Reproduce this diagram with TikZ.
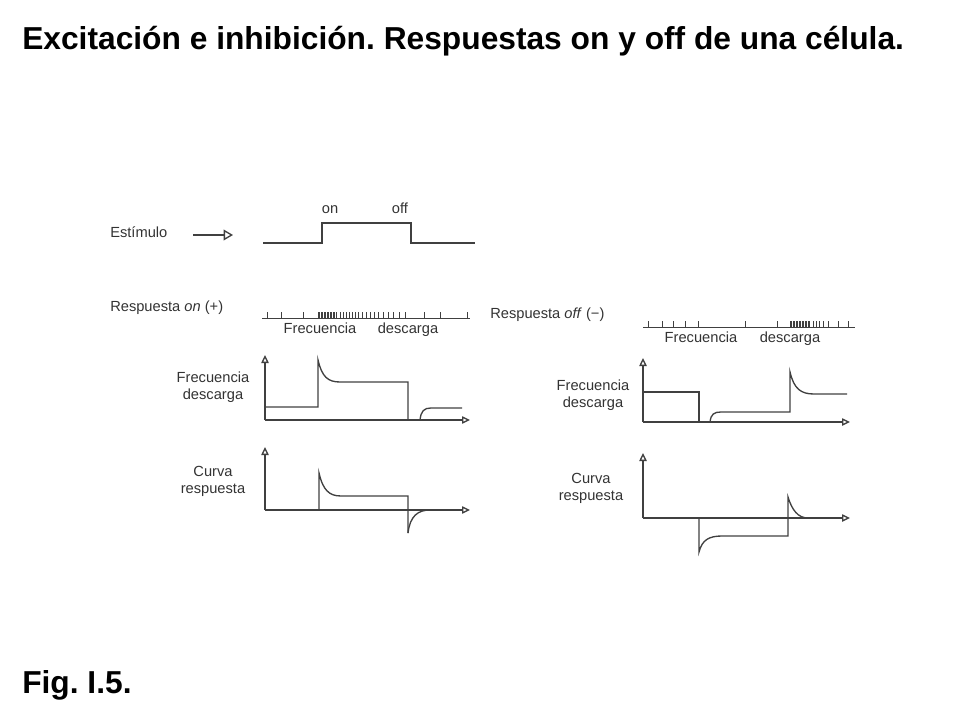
\documentclass[tikz,border=0pt]{standalone}
\usepackage{fontspec}
\setmainfont{Liberation Sans}
\usetikzlibrary{arrows.meta}
\frenchspacing
\newcommand{\leftaxis}{265}
\newcommand{\rightaxis}{643}
\newcommand{\axisend}{470}
\newcommand{\raxisend}{850}
\newcommand{\onlevel}{318}
\newcommand{\offlevel}{327}

\begin{document}
\begin{tikzpicture}[x=0.75pt,y=-0.75pt]
\tikzstyle{trace}=[black!75,line width=1pt]
\tikzstyle{axis}=[black!75,line width=1pt,-{Triangle[open,length=6pt,width=5.5pt]}]
\tikzstyle{bigarrow}=[black!75,line width=1pt,-{Triangle[open,length=7pt,width=8pt]}]
\tikzstyle{spike}=[black!75,line width=0.6pt]
\tikzstyle{lbl}=[font=\fontsize{11}{12.8}\selectfont,text=black!80,align=center,inner sep=0pt]
\tikzstyle{heading}=[anchor=west,inner sep=0pt,font=\bfseries\fontsize{23.8}{26}\selectfont]

\useasboundingbox (0,0) rectangle (960,720);

%% titles
\node (title) [heading] at (22,41) {Excitación e inhibición. Respuestas on y off de una célula.};
\node (fig) [heading] at (22,685) {Fig. I.5.};

%% stimulus
\node (estimulo) [lbl,anchor=west] at (110,232) {Estímulo};
\coordinate (arrowstart) at (193,235);
\coordinate (arrowend) at (233,235);
\draw[bigarrow] (arrowstart) -- (arrowend);
\draw[trace] (263,243) -- (322,243) -- (322,223) -- (411,223) -- (411,243) -- (475,243);
\node (on) [lbl,anchor=base] at (330,214) {on};
\node (off) [lbl,anchor=base] at (400,214) {off};

%% on response spike train
\node (respon) [lbl,anchor=west] at (110,308) {Respuesta \textit{on} (+)};
\draw[spike] (262,\onlevel) -- (470,\onlevel);
\foreach \x in {267,281,303,424,440,467}
  \draw[spike] (\x,\onlevel) -- (\x,\onlevel-6);
\foreach \x in {318,319.5,...,337}
  \draw[spike] (\x,\onlevel) -- (\x,\onlevel-6);
\foreach \x in {340,343,346,349,352,355,358,362,366,370,374,378,383,388,393,399,405}
  \draw[spike] (\x,\onlevel) -- (\x,\onlevel-6);
\node (freqon) [lbl,anchor=base] at (320,333) {Frecuencia};
\node (descon) [lbl,anchor=base] at (408,333) {descarga};

%% off response spike train
\node (respoff) [lbl,anchor=west] at (490,315) {Respuesta \textit{off} (−)};
\draw[spike] (643,\offlevel) -- (855,\offlevel);
\foreach \x in {648,662,673,685,698,745,777,813,816,819,823,828,838,848}
  \draw[spike] (\x,\offlevel) -- (\x,\offlevel-6);
\foreach \x in {790,791.5,...,810}
  \draw[spike] (\x,\offlevel) -- (\x,\offlevel-6);
\node (freqoff) [lbl,anchor=base] at (701,342) {Frecuencia};
\node (descoff) [lbl,anchor=base] at (790,342) {descarga};

%% left: frecuencia descarga
\node (lfreq) [lbl] at (213,387) {Frecuencia\\descarga};
\draw[axis] (\leftaxis,420) -- (\leftaxis,355);
\draw[axis] (\leftaxis,420) -- (\axisend,420);
\draw[trace] (\leftaxis,407) -- (318,407) -- (318,360) .. controls (322,377) and (328,382) .. (340,382) -- (408,382) -- (408,420);
\draw[trace] (420,420) .. controls (421,411) and (424,408) .. (431,408) -- (462,408);

%% left: curva respuesta
\node (lcurva) [lbl] at (213,481) {Curva\\respuesta};
\draw[axis] (\leftaxis,510) -- (\leftaxis,447);
\draw[axis] (\leftaxis,510) -- (\axisend,510);
\draw[trace] (319,510) -- (319,473) .. controls (323,490) and (329,496) .. (341,496) -- (408,496) -- (408,533);
\draw[trace] (408,533) .. controls (410,516) and (418,510) .. (430,510);

%% right: frecuencia descarga
\node (rfreq) [lbl] at (593,395) {Frecuencia\\descarga};
\draw[axis] (\rightaxis,422) -- (\rightaxis,358);
\draw[axis] (\rightaxis,422) -- (\raxisend,422);
\draw[trace] (\rightaxis,392) -- (699,392) -- (699,422);
\draw[trace] (710,422) .. controls (711,414) and (714,412) .. (721,412) -- (790,412) -- (790,372) .. controls (794,389) and (801,394) .. (814,394) -- (847,394);

%% right: curva respuesta
\node (rcurva) [lbl] at (591,488) {Curva\\respuesta};
\draw[axis] (\rightaxis,518) -- (\rightaxis,453);
\draw[axis] (\rightaxis,518) -- (\raxisend,518);
\draw[trace] (699,518) -- (699,552) .. controls (702,540) and (709,536) .. (722,536) -- (788,536) -- (788,497) .. controls (792,510) and (798,518) .. (808,518);

\end{tikzpicture}
\end{document}
